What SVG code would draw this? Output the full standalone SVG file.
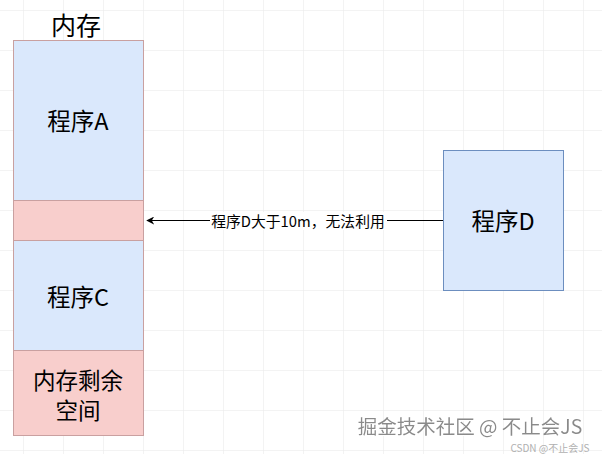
<svg xmlns="http://www.w3.org/2000/svg" width="602" height="454" viewBox="0 0 602 454">
<defs>
<pattern id="grid" x="23" y="10" width="40" height="40" patternUnits="userSpaceOnUse">
<path d="M0 0H40M0 0V40" fill="none" stroke="#e8e8e8" stroke-width="1"/>
</pattern>
<marker id="arr" viewBox="0 0 10 10" refX="9" refY="5" markerWidth="8" markerHeight="8" orient="auto-start-reverse" markerUnits="userSpaceOnUse">
<path d="M10 5L0 0L3 5L0 10Z" fill="#000"/>
</marker>
<filter id="sh" x="-5%" y="-20%" width="110%" height="140%">
<feDropShadow dx="1" dy="1" stdDeviation="0.3" flood-color="#fff"/>
</filter>
</defs>
<style>
text{font-family:"Noto Sans CJK SC","Liberation Sans",sans-serif;fill:#000;text-anchor:middle;dominant-baseline:central}
.blue{fill:#dae8fc}
.red{fill:#f8cecc}
.mem{stroke:#c9a0a0;stroke-width:1}
.big{font-size:23.5px}
</style>
<rect width="602" height="454" fill="#fff"/>
<rect width="602" height="454" fill="url(#grid)"/>
<g id="title"><text x="76" y="24" font-size="25">内存</text></g>
<g id="progA"><rect class="blue mem" x="13.5" y="40.5" width="130" height="160"/><text class="big" x="78" y="120">程序A</text></g>
<g id="gap"><rect class="red mem" x="13.5" y="200.5" width="130" height="40"/></g>
<g id="progC"><rect class="blue mem" x="13.5" y="240.5" width="130" height="110"/><text class="big" x="78" y="296">程序C</text></g>
<g id="free"><rect class="red mem" x="13.5" y="350.5" width="130" height="85"/><text x="78" y="379" font-size="22.5">内存剩余</text><text x="78" y="409" font-size="22.5">空间</text></g>
<g id="progD"><rect class="blue" stroke="#6c8ebf" x="443.5" y="150.5" width="120" height="140"/><text class="big" x="503" y="220">程序D</text></g>
<g id="connectors">
<line x1="443" y1="220.5" x2="147" y2="220.5" stroke="#000" stroke-width="1" marker-end="url(#arr)"/>
<rect x="210" y="212" width="177" height="18" fill="#fff"/>
<text x="298" y="220.5" font-size="14.8">程序D大于10m，无法利用</text>
</g>
<g id="watermark">
<text x="470" y="425" font-size="19.5" style="fill:#8a8a8a" filter="url(#sh)">掘金技术社区 @ 不止会JS</text>
<text x="550" y="447" font-size="10" style="fill:#b0b0b0">CSDN @不止会JS</text>
</g>
</svg>
